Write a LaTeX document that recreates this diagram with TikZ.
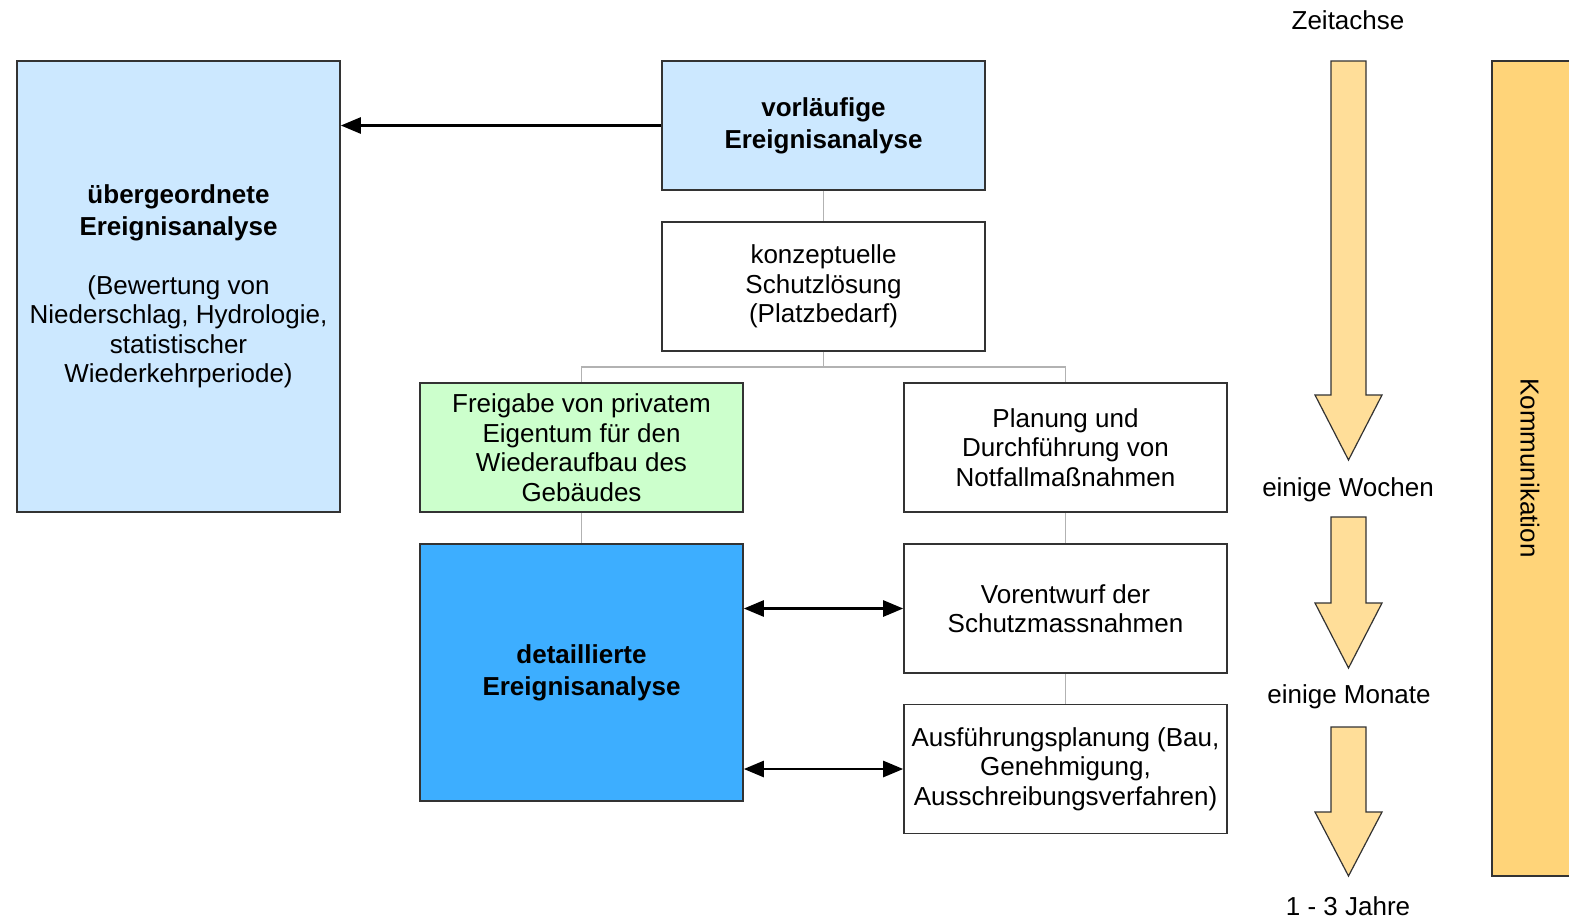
\documentclass[tikz,border=0pt]{standalone}
\usepackage{fontspec}
\setmainfont{Liberation Sans}
\usetikzlibrary{arrows.meta}

\definecolor{paleblue}{RGB}{204,232,255}
\definecolor{palegreen}{RGB}{204,255,204}
\definecolor{strongblue}{RGB}{61,174,255}
\definecolor{timeorange}{RGB}{255,222,153}
\definecolor{commorange}{RGB}{255,212,121}

\tikzset{
	box/.style={draw=black!80, line width=0.8pt, align=center, inner sep=0pt,
		minimum width=161.5pt, minimum height=64.5pt,
		font=\fontsize{13}{14.75}\selectfont},
	link/.style={draw=black!30, line width=0.8pt},
	flow/.style={line width=1.3pt, -{Triangle[length=10pt,width=8pt]}},
	both/.style={line width=1.3pt, {Triangle[length=10pt,width=8pt]}-{Triangle[length=10pt,width=8pt]}},
	timearrow/.style={draw=black!80, line width=0.6pt, fill=timeorange},
	label/.style={font=\fontsize{13}{14.75}\selectfont},
}

\begin{document}
\begin{tikzpicture}[x=0.5pt, y=-0.5pt]
	\useasboundingbox (0,0) rectangle (1569,922);

	% Boxes
	\node[box, fill=paleblue, minimum height=225.5pt] (overall) at (178.5,286.5)
		{\textbf{übergeordnete}\\[1.2pt]\textbf{Ereignisanalyse}\\[14.75pt](Bewertung von\\Niederschlag, Hydrologie,\\statistischer\\Wiederkehrperiode)};
	\node[box, fill=paleblue] (pre) at (823.5,125.5) {\textbf{vorläufige}\\[1.2pt]\textbf{Ereignisanalyse}};
	\node[box] (concept) at (823.5,286.5) {konzeptuelle\\Schutzlösung\\(Platzbedarf)};
	\node[box, fill=palegreen] (release) at (581.5,447.5) {Freigabe von privatem\\Eigentum für den\\Wiederaufbau des\\Gebäudes};
	\node[box] (emergency) at (1065.5,447.5) {Planung und\\Durchführung von\\Notfallmaßnahmen};
	\node[box, fill=strongblue, minimum height=128.5pt] (detail) at (581.5,672.5) {\textbf{detaillierte}\\[1.2pt]\textbf{Ereignisanalyse}};
	\node[box] (draft) at (1065.5,608.5) {Vorentwurf der\\Schutzmassnahmen};
	\node[box] (exec) at (1065.5,769) {Ausführungsplanung (Bau,\\Genehmigung,\\Ausschreibungsverfahren)};

	% Links
	\coordinate (split) at (823.5,367);
	\draw[link] (pre.south) -- (concept.north);
	\draw[link] (concept.south) -- (split);
	\draw[link] (split) -| (release.north);
	\draw[link] (split) -| (emergency.north);
	\draw[link] (release.south) -- (detail.north);
	\draw[link] (emergency.south) -- (draft.north);
	\draw[link] (draft.south) -- (exec.north);

	% Arrows
	\draw[flow] (pre.west) -- (pre.west -| overall.east);
	\draw[both] (draft.west -| detail.east) -- (draft.west);
	\draw[both] (exec.west -| detail.east) -- (exec.west);

	% Time axis
	\node[label] (time) at (1348,20) {Zeitachse};
	\node[label] (weeks) at (1348,490) {einige Wochen};
	\node[label] (months) at (1349,697) {einige Monate};
	\node[label] (years) at (1348,906) {1 - 3 Jahre};
	\foreach \top/\neck/\tip in {61/395/460, 517/603/668, 727/812/876}
		\draw[timearrow] (1331,\top) -- (1366,\top) -- (1366,\neck) -- (1382,\neck)
			-- (1348.5,\tip) -- (1315,\neck) -- (1331,\neck) -- cycle;

	% Communication
	\draw[draw=black!80, line width=0.8pt, fill=commorange] (1492,61) rectangle (1590,876);
	\node[label, rotate=-90] (comm) at (1530,468) {Kommunikation};
\end{tikzpicture}
\end{document}
